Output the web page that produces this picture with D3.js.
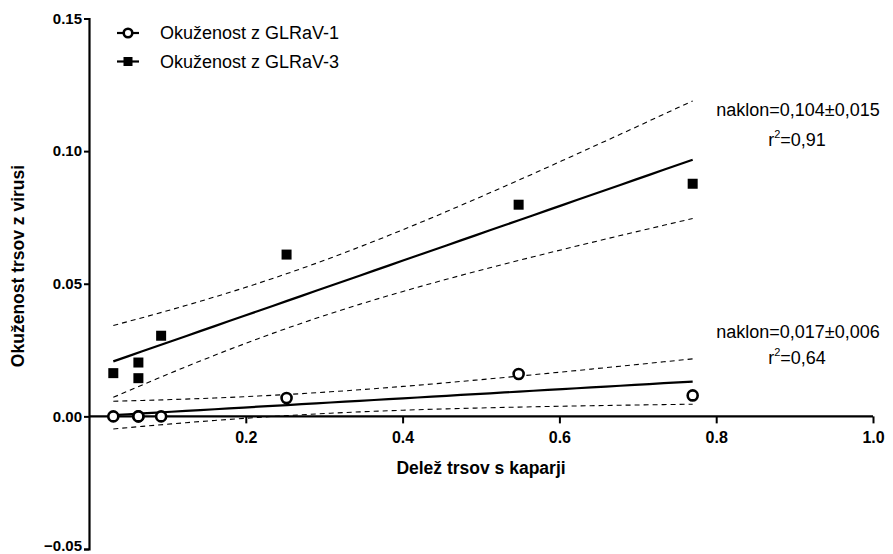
<!DOCTYPE html>
<html>
<head>
<meta charset="utf-8">
<script src="https://cdn.jsdelivr.net/npm/d3@7"></script>
<style>
  body { margin: 0; background: #fff; }
  text { font-family: "Liberation Sans", Arial, sans-serif; }
</style>
</head>
<body>
<div id="chart"></div>
<script>
// share of vines with scale insects per vineyard
const deltaKaparji = [0.031, 0.063, 0.063, 0.092, 0.252, 0.548, 0.770];
// infection rates
const glrav1 = [0, 0, 0, 0, 0.0069, 0.0160, 0.0079];
const glrav3 = [0.0163, 0.0203, 0.0144, 0.0304, 0.0610, 0.0798, 0.0877];

const xTicks = [0.2, 0.4, 0.6, 0.8, 1.0];
const yTicks = [-0.05, 0, 0.05, 0.10, 0.15];
const seriesNames = ["Okuženost z GLRaV-1", "Okuženost z GLRaV-3"];
const fitLabels = [["naklon=0,017±0,006", "0,64"], ["naklon=0,104±0,015", "0,91"]];

const width = 893, height = 554;
const x = d3.scaleLinear().domain([0, 1]).range([89, 873]);
const y = d3.scaleLinear().domain([-0.05, 0.15]).range([549, 18.5]);

const svg = d3.select("#chart").append("svg")
  .attr("width", width)
  .attr("height", height);

// linear regression with 95% confidence band (t for df=5)
function fit(xs, ys) {
  const n = xs.length;
  const mx = d3.mean(xs), my = d3.mean(ys);
  let sxx = 0, sxy = 0;
  xs.forEach((v, i) => { sxx += (v - mx) ** 2; sxy += (v - mx) * (ys[i] - my); });
  const b = sxy / sxx, a = my - b * mx;
  let sse = 0;
  xs.forEach((v, i) => { sse += (ys[i] - a - b * v) ** 2; });
  const s = Math.sqrt(sse / (n - 2));
  const t = 2.571;
  const lo = d3.min(xs), hi = d3.max(xs);
  const band = d3.range(0, 41).map(k => {
    const xv = lo + (hi - lo) * k / 40;
    const se = s * Math.sqrt(1 / n + (xv - mx) ** 2 / sxx);
    return { x: xv, y: a + b * xv, lo: a + b * xv - t * se, hi: a + b * xv + t * se };
  });
  return band;
}

const bands = [fit(deltaKaparji, glrav1), fit(deltaKaparji, glrav3)];

// axes
const xAxis = svg.append("g")
  .attr("transform", `translate(0,${y(0)})`)
  .call(d3.axisBottom(x).tickValues(xTicks).tickFormat(d3.format(".1f")).tickSizeOuter(0).tickSize(7).tickPadding(8));
xAxis.select(".domain").attr("stroke-width", 2.2).attr("d", `M${x(0)},0H${x(1)}`);
xAxis.selectAll(".tick line").attr("stroke-width", 2);
xAxis.selectAll("text").attr("font-size", 16).attr("font-weight", "bold").attr("fill", "#000");

const yAxis = svg.append("g")
  .attr("transform", `translate(${x(0)},0)`)
  .call(d3.axisLeft(y).tickValues(yTicks).tickFormat(d3.format(".2f")).tickSizeOuter(0).tickSize(5).tickPadding(2));
yAxis.select(".domain").attr("stroke-width", 2.2);
yAxis.selectAll(".tick line").attr("stroke-width", 2);
yAxis.selectAll("text").attr("font-size", 15).attr("font-weight", "bold").attr("fill", "#000");
yAxis.selectAll(".tick").filter(d => d < 0).select("text").attr("dy", "0.1em");

svg.append("text")
  .attr("x", 481).attr("y", 474)
  .attr("text-anchor", "middle")
  .attr("font-size", 17.5).attr("font-weight", "bold")
  .text("Delež trsov s kaparji");

svg.append("text")
  .attr("transform", "translate(24,266) rotate(-90)")
  .attr("text-anchor", "middle")
  .attr("font-size", 17.5).attr("font-weight", "bold")
  .text("Okuženost trsov z virusi");

// confidence bands and fit lines
bands.forEach(b => {
  ["lo", "hi"].forEach(k => {
    svg.append("path")
      .attr("d", d3.line().x(d => x(d.x)).y(d => y(d[k]))(b))
      .attr("fill", "none")
      .attr("stroke", "#000")
      .attr("stroke-width", 1.1)
      .attr("stroke-dasharray", "5,4");
  });
  svg.append("path")
    .attr("d", d3.line().x(d => x(d.x)).y(d => y(d.y))(b))
    .attr("fill", "none")
    .attr("stroke", "#000")
    .attr("stroke-width", 2.2);
});

// points
svg.selectAll(".sq")
  .data(deltaKaparji.map((v, i) => [v, glrav3[i]]))
  .enter().append("rect")
  .attr("x", d => x(d[0]) - 5)
  .attr("y", d => y(d[1]) - 5)
  .attr("width", 10).attr("height", 10)
  .attr("fill", "#000");

svg.selectAll(".circ")
  .data(deltaKaparji.map((v, i) => [v, glrav1[i]]))
  .enter().append("circle")
  .attr("cx", d => x(d[0]))
  .attr("cy", d => y(d[1]))
  .attr("r", 5)
  .attr("fill", "#fff")
  .attr("stroke", "#000")
  .attr("stroke-width", 2.6);

// fit annotations
const annY = [[332, 358], [110, 140]];
fitLabels.forEach((f, i) => {
  svg.append("text")
    .attr("x", 798).attr("y", annY[i][0] + 6)
    .attr("text-anchor", "middle")
    .attr("font-size", 18)
    .text(f[0]);
  const t = svg.append("text")
    .attr("x", 797).attr("y", annY[i][1] + 6)
    .attr("text-anchor", "middle")
    .attr("font-size", 18);
  t.append("tspan").text("r");
  t.append("tspan").attr("font-size", 11).attr("dy", -8).text("2");
  t.append("tspan").attr("dy", 8).text("=" + f[1]);
});

// legend
const legend = svg.append("g");
seriesNames.forEach((name, i) => {
  const ly = 33 + i * 28.5;
  legend.append("line")
    .attr("x1", 117).attr("x2", 139)
    .attr("y1", ly).attr("y2", ly)
    .attr("stroke", "#000").attr("stroke-width", 2.2);
  if (i === 0) {
    legend.append("circle")
      .attr("cx", 128).attr("cy", ly).attr("r", 4.3)
      .attr("fill", "#fff").attr("stroke", "#000").attr("stroke-width", 2.6);
  } else {
    legend.append("rect")
      .attr("x", 123.5).attr("y", ly - 4.5)
      .attr("width", 9).attr("height", 9)
      .attr("fill", "#000");
  }
  legend.append("text")
    .attr("x", 160).attr("y", ly + 6)
    .attr("font-size", 18)
    .text(name);
});
</script>
</body>
</html>
